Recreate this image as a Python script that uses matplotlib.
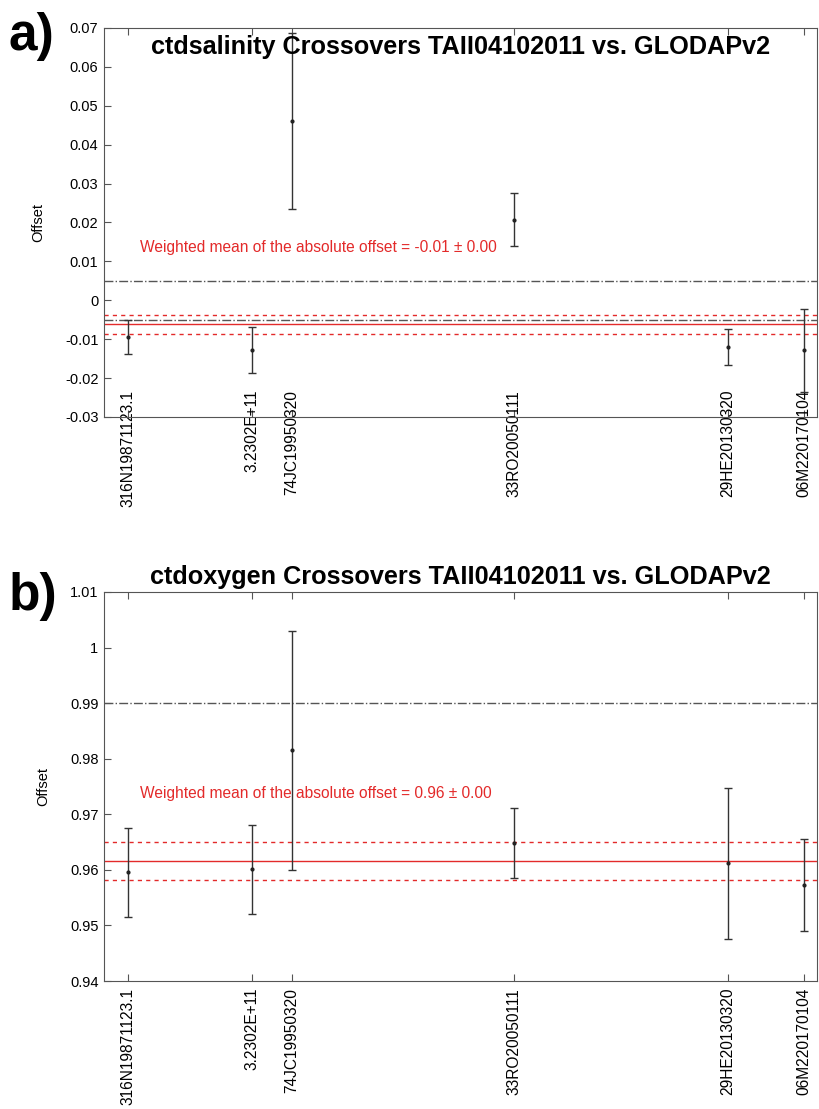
import numpy as np
import matplotlib.pyplot as plt

plt.rcParams['font.family'] = ['Liberation Sans', 'DejaVu Sans']

# cruises and their position (decimal year)
cruises = ['316N19871123.1', '3.2302E+11', '74JC19950320', '33RO20050111', '29HE20130320', '06M220170104']
xpos = [1987.9, 1993.4, 1995.2, 2005.1, 2014.6, 2018.0]

# salinity crossovers
sal_off = [-0.0095, -0.0128, 0.0460, 0.0207, -0.0120, -0.0129]
sal_err = [0.0044, 0.0060, 0.0226, 0.0068, 0.0047, 0.0106]
sal_mean = -0.0062
sal_sd = 0.0024
sal_lim = [0.005, -0.005]

# oxygen crossovers
oxy_off = [0.9596, 0.9601, 0.9815, 0.9648, 0.9612, 0.9573]
oxy_err = [0.0080, 0.0080, 0.0215, 0.0063, 0.0136, 0.0083]
oxy_mean = 0.9616
oxy_sd = 0.0035
oxy_lim = [0.99]

red = '#e32a2a'
grey = '#555555'

fig = plt.figure(figsize=(8.19, 11.09), dpi=100)
axa = fig.add_axes([0.127, 0.624, 0.871, 0.3508])
axb = fig.add_axes([0.127, 0.1154, 0.871, 0.3508])


def panel(ax, off, err, mean, sd, lims, ylim, yticks, ytl, txt, txty, labpad):
    for l in lims:
        ax.axhline(l, color=grey, ls='-.', lw=1)
    ax.axhline(mean, color=red, lw=1)
    ax.axhline(mean + sd, color=red, lw=1, ls=(0, (3, 3)))
    ax.axhline(mean - sd, color=red, lw=1, ls=(0, (3, 3)))
    ax.errorbar(xpos, off, yerr=err, fmt='o', ms=2, color='#222222',
                ecolor='#333333', elinewidth=1, capsize=3.2, capthick=1)
    ax.set_xlim(1986.83, 2018.6)
    ax.set_ylim(*ylim)
    ax.set_yticks(yticks)
    ax.set_yticklabels(ytl, fontsize=10.5)
    ax.set_xticks(xpos)
    ax.set_xticklabels(cruises, rotation=90, fontsize=11.2)
    ax.tick_params(axis='x', direction='in', top=True, length=5, pad=labpad, color=grey)
    ax.tick_params(axis='y', direction='in', length=5, pad=4, color=grey)
    for s in ax.spines.values():
        s.set_color(grey)
    ax.set_ylabel('Offset', fontsize=10.5, labelpad=14)
    ax.text(0.05, txty, txt, color=red, fontsize=11.2, transform=ax.transAxes)


panel(axa, sal_off, sal_err, sal_mean, sal_sd, sal_lim, (-0.03, 0.07),
      np.arange(-0.03, 0.0701, 0.01),
      ['-0.03', '-0.02', '-0.01', '0', '0.01', '0.02', '0.03', '0.04', '0.05', '0.06', '0.07'],
      'Weighted mean of the absolute offset = -0.01 \u00b1 0.00', 0.425, -19.5)
panel(axb, oxy_off, oxy_err, oxy_mean, oxy_sd, oxy_lim, (0.94, 1.01),
      np.arange(0.94, 1.0101, 0.01),
      ['0.94', '0.95', '0.96', '0.97', '0.98', '0.99', '1', '1.01'],
      'Weighted mean of the absolute offset = 0.96 \u00b1 0.00', 0.47, 5)

axa.text(0.5, 0.95, 'ctdsalinity Crossovers TAII04102011 vs. GLODAPv2', ha='center', va='center',
         fontsize=18.2, fontweight='bold', transform=axa.transAxes)
axb.set_title('ctdoxygen Crossovers TAII04102011 vs. GLODAPv2', fontsize=18.2, fontweight='bold', pad=6)

fig.text(0.01, 0.967, 'a)', fontsize=37, fontweight='bold', va='center')
fig.text(0.01, 0.462, 'b)', fontsize=37, fontweight='bold', va='center')

plt.savefig('out.png', dpi=100, facecolor='w')
